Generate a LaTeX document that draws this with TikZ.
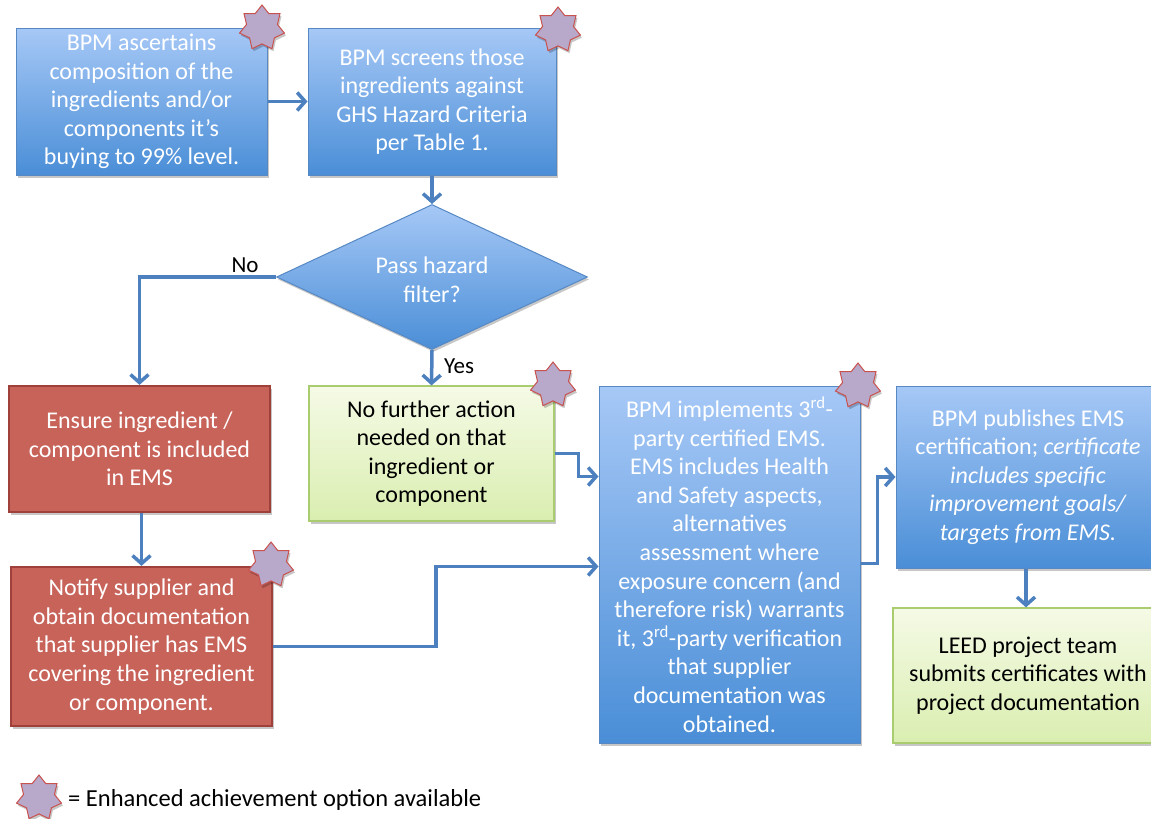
\documentclass[tikz,border=0pt]{standalone}
\usepackage{fontspec}
\setmainfont{Carlito}
\usetikzlibrary{shapes.geometric,arrows.meta,shadows}
\definecolor{bluetop}{RGB}{166,200,246}
\definecolor{bluebot}{RGB}{74,142,215}
\definecolor{blueline}{RGB}{86,136,196}
\definecolor{redfill}{RGB}{200,99,90}
\definecolor{redline}{RGB}{160,64,58}
\definecolor{greentop}{RGB}{245,250,230}
\definecolor{greenbot}{RGB}{218,238,176}
\definecolor{greenline}{RGB}{168,204,110}
\definecolor{starfill}{RGB}{184,168,202}
\definecolor{starline}{RGB}{200,82,78}
\definecolor{arrowcol}{RGB}{76,128,190}
\begin{document}
\begin{tikzpicture}[x=1pt,y=-1pt,
  txt/.style={font=\fontsize{24}{28.6}\selectfont, align=center, inner sep=2pt},
  shad/.style={drop shadow={shadow xshift=1.5pt, shadow yshift=-2.5pt, opacity=0.22, fill=black}},
  bluebox/.style={txt, shad, rectangle, draw=blueline, line width=1pt, top color=bluetop, bottom color=bluebot, text=white},
  redbox/.style={txt, shad, rectangle, draw=redline, line width=2.2pt, fill=redfill, text=white},
  greenbox/.style={txt, shad, rectangle, draw=greenline, line width=1.2pt, top color=greentop, bottom color=greenbot, text=black},
  enh/.style={star, star points=7, star point ratio=1.45, minimum size=46pt, inner sep=0pt, fill=starfill, draw=starline, line width=1pt, shad},
  conn/.style={draw=arrowcol, line width=3.5pt, -{Straight Barb[length=8pt,width=18pt,line width=3.5pt]}},
  lbl/.style={font=\fontsize{23}{27}\selectfont, text=black, inner sep=0pt}
]
\useasboundingbox (0,0) rectangle (1151,819);
\clip (0,0) rectangle (1151,819);

\node[bluebox, minimum width=251pt, minimum height=147pt] (b1) at (141.5,101.5)
  {BPM ascertains\\composition of the\\ingredients and/or\\components it’s\\buying to 99\% level.};
\node[bluebox, minimum width=248pt, minimum height=147pt] (b2) at (432,101.5)
  {BPM screens those\\ingredients against\\GHS Hazard Criteria\\per Table 1.};
\node[bluebox, diamond, aspect=2.14, minimum width=311pt, minimum height=145pt, inner sep=0pt] (dia) at (432,277) {};
\node[txt, text=white] (diat) at (432,280) {Pass hazard\\filter?};
\node[redbox, minimum width=261pt, minimum height=126pt] (r1) at (139.5,449)
  {Ensure ingredient /\\component is included\\in EMS};
\node[greenbox, minimum width=245pt, minimum height=135pt] (g1) at (431.5,453.5)
  {No further action\\needed on that\\ingredient or\\component};
\node[redbox, minimum width=261pt, minimum height=159pt] (r2) at (141.5,646.5)
  {Notify supplier and\\obtain documentation\\that supplier has EMS\\covering the ingredient\\or component.};
\node[bluebox, minimum width=261pt, minimum height=357pt] (b3) at (729.5,564.5)
  {BPM implements 3\textsuperscript{rd}-\\party certified EMS.\\EMS includes Health\\and Safety aspects,\\alternatives\\assessment where\\exposure concern (and\\therefore risk) warrants\\it, 3\textsuperscript{rd}-party verification\\that supplier\\documentation was\\obtained.};
\node[bluebox, minimum width=264pt, minimum height=182pt] (b4) at (1028,477)
  {BPM publishes EMS\\certification; \textit{certificate}\\\textit{includes specific}\\\textit{improvement goals/}\\\textit{targets from EMS.}};
\node[greenbox, minimum width=270pt, minimum height=135pt] (g2) at (1028,675.5)
  {LEED project team\\submits certificates with\\project documentation};

\path[conn] (b1.east) -- (b2.west);
\path[conn] (b2.south) -- (dia.north);
\path[conn] (dia.west) -| (r1.north);
\path[conn] (dia.south) -- (g1.north);
\path[conn] (r1.south -| r2.north) -- (r2.north);
\path[conn] (g1.east) -- ++(24,0) |- ([yshift=88pt]b3.west);
\path[conn] (r2.east) -- ++(163,0) |- ([yshift=-2pt]b3.west);
\path[conn] ([yshift=1pt]b3.east) -- ++(17,0) |- (b4.west);
\path[conn] ([xshift=-2pt]b4.south) -- ([xshift=-2pt]g2.north);

\node[lbl] (no) at (245,265) {No};
\node[lbl] (yes) at (459,366) {Yes};

\node[enh] (s1) at (262,28) {};
\node[enh] (s2) at (558,30) {};
\node[enh] (s3) at (553,385) {};
\node[enh] (s4) at (858,386) {};
\node[enh] (s5) at (271,565) {};
\node[enh] (s6) at (39,798) {};
\node[lbl, anchor=west, font=\fontsize{24.5}{28}\selectfont] (leg) at (68,800) {= Enhanced achievement option available};
\end{tikzpicture}
\end{document}
